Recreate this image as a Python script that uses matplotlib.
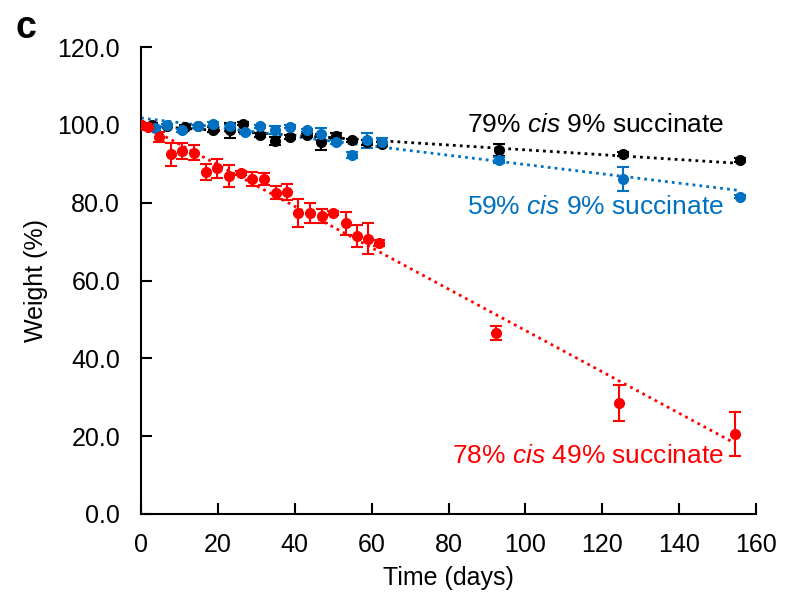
import numpy as np
import matplotlib
matplotlib.use("Agg")
import matplotlib.pyplot as plt

plt.rcParams['font.family'] = ['Liberation Sans', 'DejaVu Sans']
plt.rcParams['mathtext.fontset'] = 'custom'
plt.rcParams['mathtext.rm'] = 'Liberation Sans'
plt.rcParams['mathtext.it'] = 'Liberation Sans:italic'

# Data
red_days = [0, 1.9, 4.8, 7.8, 10.7, 13.9, 16.9, 19.8, 22.9, 25.9, 29.0, 32.1, 35.0, 37.9,
            40.9, 44.0, 47.0, 49.9, 53.3, 56.1, 59.0, 62.0, 92.3, 124.4, 154.5]
red_vals = [100.0, 99.4, 96.9, 92.4, 93.3, 92.9, 87.9, 88.8, 86.8, 87.7, 86.1, 86.1, 82.6, 82.8,
            77.4, 77.4, 76.6, 77.4, 74.7, 71.4, 70.8, 69.6, 46.6, 28.6, 20.5]
red_err = [0.3, 0.5, 1.4, 3.0, 2.1, 1.9, 2.0, 2.5, 2.8, 0.5, 1.8, 1.6, 1.7, 2.1,
           3.6, 2.6, 1.8, 0.5, 2.9, 2.8, 3.9, 0.8, 1.8, 4.6, 5.7]

bk_days = [0, 2.8, 6.7, 11.4, 14.9, 18.8, 23.2, 26.6, 31.0, 34.9, 38.8, 43.1, 46.8, 50.6,
           55.0, 58.7, 62.6, 93.2, 125.3, 155.8]
bk_vals = [100.0, 99.9, 99.8, 99.5, 99.6, 98.8, 98.6, 100.3, 97.3, 95.8, 96.9, 97.3, 95.6, 97.1,
           96.0, 95.5, 95.2, 93.5, 92.5, 91.0]
bk_err = [0.3, 0.5, 0.4, 0.4, 0.4, 0.6, 2.0, 0.4, 0.5, 1.0, 0.5, 0.5, 2.0, 0.8,
          0.5, 0.6, 0.5, 1.5, 0.5, 0.6]

bl_days = [0, 3.6, 6.7, 10.6, 14.9, 18.8, 23.2, 27.0, 31.0, 34.9, 38.8, 43.1, 46.8, 50.6,
           55.0, 58.7, 62.6, 93.2, 125.3, 155.8]
bl_vals = [100.0, 99.2, 99.9, 98.6, 99.7, 100.3, 99.7, 98.1, 99.7, 98.6, 99.5, 98.6, 97.7, 95.6,
           92.3, 96.0, 95.6, 91.0, 86.1, 81.5]
bl_err = [0.3, 0.4, 0.4, 0.4, 0.4, 0.5, 0.4, 0.4, 0.4, 1.0, 0.4, 0.4, 1.5, 0.4,
          0.8, 2.0, 1.0, 0.8, 3.0, 0.4]

series = [
    (bk_days, bk_vals, bk_err, '#000000', '79% $\\it{cis}$ 9% succinate', 151.7, 100.0),
    (bl_days, bl_vals, bl_err, '#0070C0', '59% $\\it{cis}$ 9% succinate', 151.7, 78.9),
    (red_days, red_vals, red_err, '#FF0000', '78% $\\it{cis}$ 49% succinate', 151.7, 14.9),
]

fig = plt.figure(figsize=(7.9, 5.96), dpi=100)
ax = fig.add_axes([0.1785, 0.1376, 0.7785, 0.7834])

for days, vals, err, col, lab, tx, ty in series:
    d = np.array(days)
    v = np.array(vals)
    k, b = np.polyfit(d, v, 1)
    xx = np.array([d.min(), d.max()])
    ax.plot(xx, k * xx + b, linestyle=(0, (1, 1.5)), color=col, linewidth=2.0, zorder=2)
    ax.errorbar(d, v, yerr=err, fmt='o', color=col, ecolor=col, markersize=7,
                capsize=4, elinewidth=1.5, capthick=1.5, zorder=3)
    ax.text(tx, ty, lab, color=col, ha='right', va='center', fontsize=19)

ax.set_xlim(0, 160)
ax.set_ylim(0, 120)
ax.set_xticks(np.arange(0, 161, 20))
ax.set_yticks(np.arange(0, 121, 20))
ax.set_yticklabels([f"{v:.1f}" for v in np.arange(0, 121, 20)])
ax.tick_params(direction='in', length=8, width=1.5, labelsize=18)
ax.tick_params(axis='y', pad=15)
ax.tick_params(axis='x', pad=14)
for s in ['top', 'right']:
    ax.spines[s].set_visible(False)
for s in ['left', 'bottom']:
    ax.spines[s].set_linewidth(1.5)

ax.set_xlabel('Time (days)', fontsize=18, labelpad=6)
ax.set_ylabel('Weight (%)', fontsize=18, labelpad=7)
fig.text(0.019, 0.953, 'c', fontsize=27, fontweight='bold', va='center', ha='left')

fig.savefig('out.png', dpi=100)
